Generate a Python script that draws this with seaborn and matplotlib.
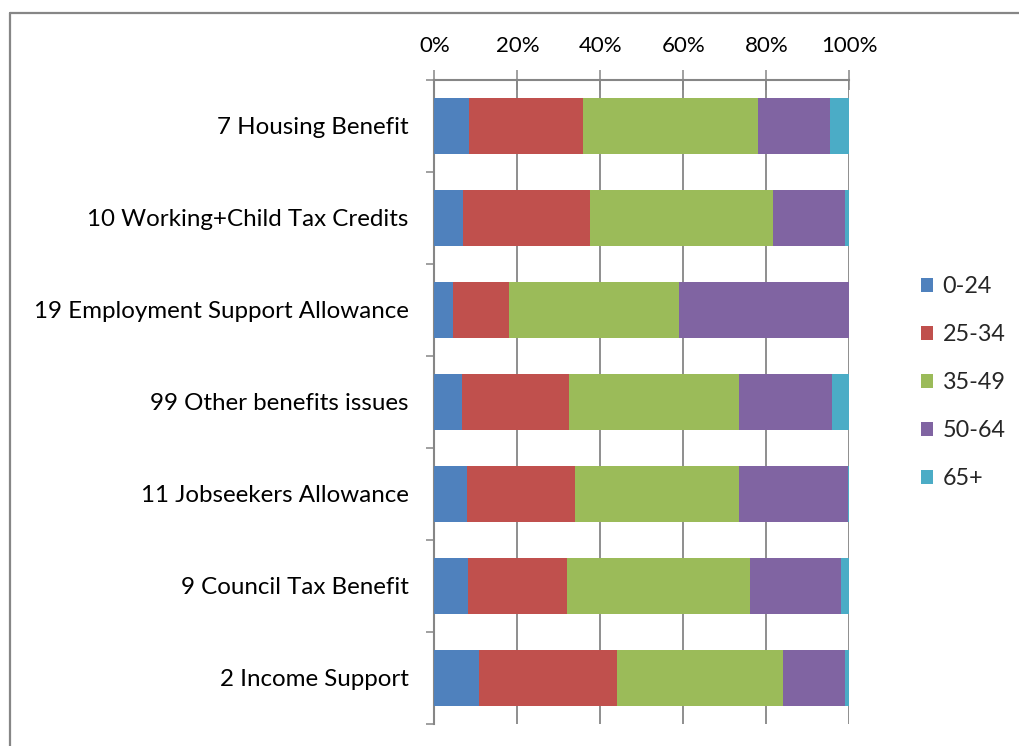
import numpy as np
import pandas as pd
import seaborn as sns
import matplotlib.pyplot as plt
from matplotlib.patches import Patch
from matplotlib.lines import Line2D

sns.set_theme(style="white")
plt.rcParams["font.family"] = ["Lato", "DejaVu Sans"]

categories = [
    "7 Housing Benefit",
    "10 Working+Child Tax Credits",
    "19 Employment Support Allowance",
    "99 Other benefits issues",
    "11 Jobseekers Allowance",
    "9 Council Tax Benefit",
    "2 Income Support",
]
age_groups = ["0-24", "25-34", "35-49", "50-64", "65+"]

age_0_24 = [8.2, 6.8, 4.5, 6.7, 7.9, 8.0, 10.8]
age_25_34 = [27.6, 30.6, 13.5, 25.8, 26.0, 24.0, 33.2]
age_35_49 = [42.2, 44.2, 41.0, 40.9, 39.5, 44.0, 39.9]
age_50_64 = [17.4, 17.4, 41.0, 22.5, 26.3, 22.1, 15.1]
age_65_plus = [4.6, 1.0, 0.0, 4.1, 0.3, 1.9, 1.0]

colors = ["#4F81BD", "#C0504D", "#9BBB59", "#8064A2", "#4BACC6"]
grid_gray = "#868686"

df = pd.DataFrame(
    {"category": categories, "0-24": age_0_24, "25-34": age_25_34,
     "35-49": age_35_49, "50-64": age_50_64, "65+": age_65_plus}
)
# normalise each row to 100% and build cumulative stacks
vals = df[age_groups]
vals = vals.div(vals.sum(axis=1), axis=0) * 100
cum = vals.cumsum(axis=1)

fig = plt.figure(figsize=(10.2, 7.46), dpi=100)
ax = fig.add_axes([434.5 / 1020, 22 / 746, 414.8 / 1020, 644 / 746])

# draw the widest stack first so each shorter stack sits on top of it
for grp, col in reversed(list(zip(age_groups, colors))):
    sns.barplot(
        x=cum[grp].values, y=df["category"], orient="h", color=col,
        order=categories, width=0.61, saturation=1, ax=ax, zorder=3,
        edgecolor="none", linewidth=0,
    )

ax.set_xlim(0, 100)
ax.set_ylim(len(categories) - 0.5, -0.5)
ax.set_xlabel("")
ax.set_ylabel("")

# percent axis along the top
ax.xaxis.tick_top()
ax.set_xticks([0, 20, 40, 60, 80, 100])
ax.set_xticklabels([f"{v}%" for v in [0, 20, 40, 60, 80, 100]])
ax.tick_params(axis="x", which="major", direction="inout", length=14.4,
               width=1.1, color=grid_gray, labelsize=16, pad=10,
               labelcolor="black")
ax.grid(axis="x", color=grid_gray, linewidth=1.3, zorder=0)
ax.set_axisbelow(True)

# category ticks sit between the bars
ax.set_yticks(np.arange(len(categories)))
ax.set_yticklabels(categories)
ax.set_yticks(np.arange(len(categories) + 1) - 0.5, minor=True)
ax.tick_params(axis="y", which="major", length=0, labelsize=17.4, pad=18.5,
               labelcolor="black")
ax.tick_params(axis="y", which="minor", direction="out", length=6,
               width=1.1, color=grid_gray, left=True)

for side in ["right", "bottom"]:
    ax.spines[side].set_visible(False)
for side in ["top", "left"]:
    ax.spines[side].set_color(grid_gray)
    ax.spines[side].set_linewidth(1.5)

handles = [Patch(facecolor=c, edgecolor="none") for c in colors]
fig.legend(
    handles, age_groups, loc="upper left", bbox_to_anchor=(921 / 1020, 1 - 276 / 746),
    frameon=False, fontsize=16.8, handlelength=0.52, handleheight=0.55,
    handletextpad=0.4, labelspacing=1.16, borderaxespad=0, borderpad=0,
)

# chart area frame on left and top
fig.add_artist(Line2D([10.5 / 1020, 10.5 / 1020], [0, 1 - 13 / 746],
                      color=grid_gray, linewidth=1.6, transform=fig.transFigure))
fig.add_artist(Line2D([10.5 / 1020, 1], [1 - 13 / 746, 1 - 13 / 746],
                      color=grid_gray, linewidth=1.6, transform=fig.transFigure))

fig.savefig("out.png", dpi=100, facecolor="white")
